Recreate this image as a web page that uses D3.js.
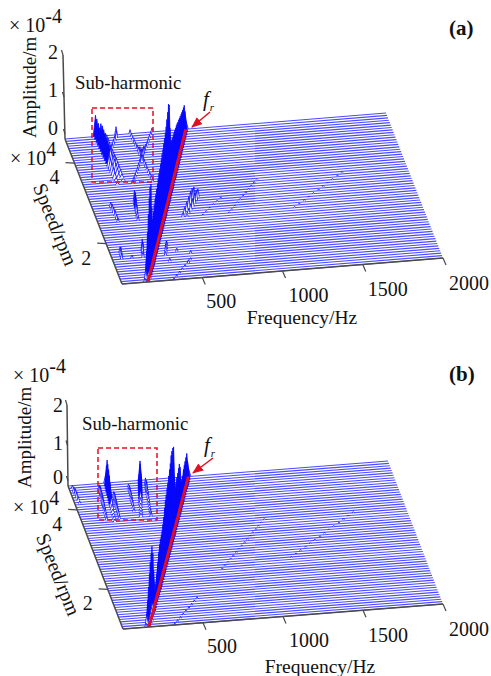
<!DOCTYPE html>
<html>
<head>
<meta charset="utf-8">
<script src="https://d3js.org/d3.v7.min.js"></script>
<style>
  body { margin: 0; background: #fff; }
  text { font-family: "Liberation Serif", serif; fill: #111; }
</style>
</head>
<body>
<div id="chart"></div>
<script>
// speeds of the flat traces that make the floor (rpm)
const floorSpeeds = [10000,10600,11200,11800,12400,13000,13600,14200,14800,15400,16000,16600,17200,17800,18400,19000,19600,20200,20800,21400,22000,22600,23200,23800,24400,25000,25600,26200,26800,27400,28000,28600,29200,29800,30400,31000,31600,32200,32800,33400,34000,34600,35200,35800,36400,37000,37600,38200,38800,39400,40000,40600,41200,41800,42400,43000,43600,44200,44800,45400,46000];
const speeds = [10000,10750,11500,12250,13000,13750,14500,15250,16000,16750,17500,18250,19000,19750,20500,21250,22000,22750,23500,24250,25000,25750,26500,27250,28000,28750,29500,30250,31000,31750,32500,33250,34000,34750,35500,36250,37000,37750,38500,39250,40000,40750,41500,42250,43000,43750,44500,45250,46000];

const freqTicks = [500, 1000, 1500, 2000];
const speedTicks = [20000, 40000];
const ampTicks = [0, 1, 2];

// rotating frequency fr (Hz)
const frFreq = [162,174,187,199,211,224,236,248,260,273,285,297,310,322,334,347,359,371,383,396,408,420,433,445,457,470,482,494,506,519,531,543,556,568,580,593,605,617,629,642,654,666,679,691,703,716,728,740,752];

// amplitude of the main ridge (x 1e-4 m)
const mainAmpA = [.1,.18,.37,.55,.74,.93,1.07,1.16,1.25,1.32,1.36,1.41,1.46,1.51,1.55,1.59,1.63,1.67,1.72,1.76,1.82,1.87,1.93,2.0,2.1,2.2,2.32,2.22,1.58,1.15,1.13,1.11,1.09,1.07,1.06,1.04,1.02,.99,.95,.93,.89,.86,.83,.8,.78,.76,.74,.51,.23];
const mainAmpB = [.1,.15,.2,.25,.3,.32,.33,.34,.33,.33,.55,.75,.9,1.02,1.08,1.1,1.12,1.2,1.3,1.45,1.56,1.62,1.7,1.76,1.85,1.93,2.0,2.12,2.15,2.15,2.1,1.3,.95,1,1.05,1.08,1.12,1.15,1,.6,.5,.55,.63,.66,.68,.7,.72,.45,.2];

// panel (a), sub-harmonic ridges
const a1Freq = [208,207,206,205,204,202,201,200,199,198,197,196,195,194,193,191,190];
const a1Amp = [.05,.1,.15,.2,.25,.27,.3,.32,.33,.35,.36,.38,.4,.43,.47,.5,.52];
const a2Freq = [231,230,229,227,226,225,224,223,222,221,220,219,218,216];
const a2Amp = [.12,.18,.22,.25,.27,.28,.3,.31,.32,.33,.35,.38,.4,.38];
const a3Freq = [251,250,249,247,246,245,244,243,242,241,240,239,238,236];
const a3Amp = [.06,.1,.13,.16,.18,.2,.2,.2,.2,.2,.22,.24,.25,.22];
const a4Freq = [216,232,248,264,280,296,312,318];
const a4Amp = [.08,.08,.1,.1,.12,.14,.18,.2];
const a5Freq = [428,427,425,424,422,421,419,418,416,415,413,412,410,409,407,406,405];
const a6Freq = [304,319,334,349,364,378,393,408,423,438,453,468,483,497,512,527,542];
const crossAmp = [.08,.08,.08,.08,.08,.1,.12,.15,.22,.2,.12,.1,.08,.08,.08,.08,.1];

// panel (a), mid speed clusters
const c1Freq = [528,546,566,586,604,622,640];
const c1Amp = [.1,.15,.2,.25,.3,.3,.25];
const c1bFreq = [553,571,591,611,629,647,665];
const c1bAmp = [.05,.1,.15,.2,.25,.25,.2];
const c2Freq = [248,250,254,258,262,266,270];
const c2Amp = [.1,.15,.25,.3,.35,.32,.28];
const c3Freq = [123,122,120,118,116,115];
const c3Amp = [.1,.12,.14,.15,.15,.12];

// panel (a), low speed bumps
const d1Freq = [190,195,200,210];
const d1Amp = [.15,.3,.3,.15];
const d2Freq = [57,60,62];
const d2Amp = [.15,.22,.15];
const d3Freq = [330,340,350,360];
const d3Amp = [.1,.2,.2,.12];

// panel (a), faint harmonics
const h2LowA = [324,348,374,398,422,448,472];
const h2A = [816,840,866,890,914,940,964,988,1012,1038,1062];
const h3A = [1224,1260,1299,1335,1371,1410,1446,1482,1518,1557,1593];
const h17A = [653,680,710,740,770,800];

// the thin spike next to the main ridge
const spikeFreq = [143,156,168,181,194,207,219,232,245,257];
const spikeAmpA = [.1,.24,.6,.98,1.34,1.66,1.85,1.85,1.2,.6];
const spikeFreqB = [144,156,169,181,194,206,219,231,244,256,269];
const spikeAmpB = [.1,.25,.5,.75,1,1.2,1.35,1.44,1.2,.7,.3];

// panel (b), sub-harmonic ridges
const b1Freq = [200,203,205,208,211,214,216,219,222,225,227,230,233,235];
const b1Amp = [.08,.08,.08,.1,.15,.25,.35,.45,.55,.62,.68,.71,.5,.2];
const b2Freq = [370,377,383,390,396,403,410,416,423,429,436,443,449];
const b2Amp = [.1,.1,.1,.12,.18,.28,.4,.48,.52,.55,.55,.55,.2];
const b3Freq = [155,158,160,162,165,167,170,172,175,177,180];
const b3Amp = [.08,.1,.15,.17,.2,.21,.22,.22,.22,.18,.12];
const b4Freq = [234,236,238,241,243,245,248,250];
const b4Amp = [.1,.15,.15,.18,.2,.2,.2,.15];
const b5Freq = [340,343,346,349,352,355,358,361,364];
const b5Amp = [.08,.1,.12,.14,.15,.15,.15,.12,.08];
const b6Freq = [433,436,440,444,448,452,456,459,463,467,470];
const b6Amp = [.12,.1,.08,.08,.08,.1,.15,.2,.25,.22,.2];
const b7Freq = [30,28,26,24,22,20];
const b7Amp = [.06,.1,.15,.15,.12,.08];
const h2LowB = [324,348,374,398,422,448,472,496,520];
const h2B = [742,766,792,816,840,866,890,914,940,964,988,1012,1038,1062,1086,1112];
const h3B = [1188,1224,1260,1299,1335,1371,1410,1446,1482,1518,1557,1593,1629,1668];

// [first sample, freqs, amps, half width in Hz]
const ridgesA = [
  [0, frFreq, mainAmpA, 16], [0, spikeFreq, spikeAmpA, 9],
  [32, a1Freq, a1Amp, 14], [34, a2Freq, a2Amp, 14], [33, a3Freq, a3Amp, 14], [41, a4Freq, a4Amp, 8],
  [32, a5Freq, crossAmp, 7], [32, a6Freq, crossAmp, 7],
  [20, c1Freq, c1Amp, 9], [20, c1bFreq, c1bAmp, 9], [20, c2Freq, c2Amp, 8], [20, c3Freq, c3Amp, 8],
  [8, d1Freq, d1Amp, 8], [8, d2Freq, d2Amp, 8], [8, d3Freq, d3Amp, 8],
  [0, h2LowA, .05, 6], [20, h2A, .03, 6], [20, h3A, .03, 6], [20, h17A, .03, 6],
  [8, [121], .08, 8], [6, [342], .08, 8], [9, [408], .08, 8], [5, [451], .08, 8], [8, [487], .08, 8]
];
const ridgesB = [
  [0, frFreq, mainAmpB, 16], [0, spikeFreqB, spikeAmpB, 9],
  [35, b1Freq, b1Amp, 12], [36, b2Freq, b2Amp, 12], [36, b3Freq, b3Amp, 8], [36, b4Freq, b4Amp, 8],
  [38, b5Freq, b5Amp, 8], [36, b6Freq, b6Amp, 8], [42, b7Freq, b7Amp, 8],
  [0, h2LowB, .05, 6], [17, h2B, .03, 6], [19, h3B, .03, 6]
];

const panelA = {
  tag: "(a)", tagX: 449, tagY: 35, ridges: ridgesA,
  front: [122, 284], freqVec: [321, -26], speedVec: [-57, -145], ampTop: [-2, -84], ampPx: 41,
  box: [92, 108, 153, 182], subX: 75, subY: 89,
  fx: 203, fy: 106, arrow: [[210, 112], [192, 127]],
  expX: 9, expY: 32, speedExpX: 10, speedExpY: 165,
  ampX: 36, ampY: 138, ampLabelX: 53, ampLabelY: [135, 97, 59],
  speedTitle: [49, 227], freqTitle: [302, 324]
};
const panelB = {
  tag: "(b)", tagX: 449, tagY: 381, ridges: ridgesB,
  front: [123, 629], freqVec: [320, -25], speedVec: [-55, -143], ampTop: [-1, -81], ampPx: 41,
  box: [98, 448, 157, 520], subX: 82, subY: 430,
  fx: 204, fy: 452, arrow: [[213, 458], [193, 473]],
  expX: 13, expY: 382, speedExpX: 13, speedExpY: 514,
  ampX: 31, ampY: 488, ampLabelX: 58, ampLabelY: [484, 450, 412],
  speedTitle: [52, 577], freqTitle: [320, 673]
};

const svg = d3.select("#chart").append("svg")
  .attr("width", 491)
  .attr("height", 676);

svg.append("defs").append("marker")
  .attr("id", "head")
  .attr("markerWidth", 12).attr("markerHeight", 10)
  .attr("refX", 10).attr("refY", 4.5)
  .attr("orient", "auto").attr("markerUnits", "userSpaceOnUse")
  .append("path").attr("d", "M0,0L11,4.5L0,9Z").attr("fill", "#e01020");

[panelA, panelB].forEach(drawPanel);

function drawPanel(p) {
  const g = svg.append("g");

  // frequency and speed each push a point along one edge of the floor
  const fT = d3.scaleLinear().domain([0, 2000]).range([0, 1]);
  const sT = d3.scaleLinear().domain([10000, 46000]).range([0, 1]);
  const aY = d3.scaleLinear().domain([0, 1]).range([0, -p.ampPx]);
  const px = (f, s) => p.front[0] + fT(f) * p.freqVec[0] + sT(s) * p.speedVec[0];
  const py = (f, s, a) => p.front[1] + fT(f) * p.freqVec[1] + sT(s) * p.speedVec[1] + aY(a);

  // everything that gets drawn, sorted by speed later
  const items = floorSpeeds.map(s => ({ s, floor: true }));
  p.ridges.forEach(([first, freqs, amps, w]) => {
    freqs.forEach((f, k) => {
      const a = Array.isArray(amps) ? amps[k] : amps;
      items.push({ s: speeds[first + k], f, a, w });
    });
  });
  items.sort((m, n) => d3.descending(m.s, n.s));

  // back to front, so near traces hide the far ones
  const traces = g.append("g");
  const traceColor = "#0808ff";
  items.forEach(d => {
    const pts = d.floor
      ? [{ f: 0, a: 0 }, { f: 2000, a: 0 }]
      : [{ f: d.f - d.w, a: 0 }, { f: d.f, a: d.a }, { f: d.f + d.w, a: 0 }];
    const path = d3.line().x(q => px(q.f, d.s)).y(q => py(q.f, d.s, q.a))(pts);
    traces.append("path")
      .attr("d", path)
      .attr("fill", d.floor ? "none" : (d.a > 0.3 ? traceColor : "#fff"))
      .attr("stroke", d.floor ? "#4a4aff" : traceColor)
      .attr("stroke-width", d.floor ? 1.1 : 0.8);
  });

  // fr ridge base
  g.append("path")
    .attr("d", d3.line().x((f, i) => px(f, speeds[i])).y((f, i) => py(f, speeds[i], 0))(frFreq))
    .attr("fill", "none")
    .attr("stroke", "#e01020")
    .attr("stroke-width", 3);

  // floor edges and axes
  const axisColor = "#4a4a4a";
  const edge = (x1, y1, x2, y2, w) => g.append("line")
    .attr("x1", x1).attr("y1", y1).attr("x2", x2).attr("y2", y2)
    .attr("stroke", axisColor).attr("stroke-width", w || 1.5);

  edge(px(0, 10000), py(0, 10000, 0), px(2000, 10000), py(2000, 10000, 0));
  edge(px(0, 10000), py(0, 10000, 0), px(0, 46000), py(0, 46000, 0));
  const backX = px(0, 46000), backY = py(0, 46000, 0);
  edge(backX, backY, backX + p.ampTop[0], backY + p.ampTop[1]);

  const fLabelDx = [19, 26, 25, 26];
  freqTicks.forEach((f, k) => {
    const x = px(f, 10000), y = py(f, 10000, 0);
    edge(x, y, x + 3, y + 7, 1.2);
    g.append("text").attr("x", x + fLabelDx[k]).attr("y", y + 30 + k * 0.7)
      .attr("text-anchor", "middle").attr("font-size", 20).text(f);
  });

  speedTicks.forEach(s => {
    const x = px(0, s), y = py(0, s, 0);
    edge(x, y, x - 9, y - 0.5, 1.2);
    g.append("text").attr("x", x - 20).attr("y", y + 21)
      .attr("text-anchor", "middle").attr("font-size", 20).text(s / 10000);
  });

  ampTicks.forEach((a, k) => {
    const x = backX + a / 2 * p.ampTop[0], y = backY + a / 2 * p.ampTop[1] - (a === 0 ? 5 : 0);
    edge(x, y, x - 1.5, y - 5, 1.2);
    g.append("text").attr("x", p.ampLabelX).attr("y", p.ampLabelY[k])
      .attr("text-anchor", "middle").attr("font-size", 20).text(a);
  });

  // exponents
  const exponent = (x, y, exp) => {
    const t = g.append("text").attr("x", x).attr("y", y).attr("font-size", 20);
    t.append("tspan").text("\u00d7 10");
    t.append("tspan").attr("dy", -9).attr("font-size", 20).text(exp);
  };
  exponent(p.expX, p.expY, "-4");
  exponent(p.speedExpX, p.speedExpY, "4");

  g.append("text")
    .attr("transform", `translate(${p.ampX},${p.ampY}) rotate(-90)`)
    .attr("font-size", 19).text("Amplitude/m");
  g.append("text")
    .attr("transform", `translate(${p.speedTitle[0]},${p.speedTitle[1]}) rotate(68)`)
    .attr("text-anchor", "middle").attr("font-size", 20).text("Speed/rpm");
  g.append("text")
    .attr("x", p.freqTitle[0]).attr("y", p.freqTitle[1])
    .attr("text-anchor", "middle").attr("font-size", 19.5).text("Frequency/Hz");

  g.append("text").attr("x", p.subX).attr("y", p.subY).attr("font-size", 18.8).text("Sub-harmonic");
  g.append("text").attr("x", p.tagX).attr("y", p.tagY)
    .attr("font-size", 21).attr("font-weight", "bold").text(p.tag);

  // dashed box around the sub-harmonics
  g.append("rect")
    .attr("x", p.box[0]).attr("y", p.box[1])
    .attr("width", p.box[2] - p.box[0]).attr("height", p.box[3] - p.box[1])
    .attr("fill", "none").attr("stroke", "#e01020")
    .attr("stroke-width", 1.5).attr("stroke-dasharray", "5,3");

  // fr label and arrow
  const fLabel = g.append("text").attr("x", p.fx).attr("y", p.fy)
    .attr("font-size", 21).attr("font-style", "italic");
  fLabel.append("tspan").text("f");
  fLabel.append("tspan").attr("dy", 5).attr("dx", 1).attr("font-size", 11).text("r");

  g.append("line")
    .attr("x1", p.arrow[0][0]).attr("y1", p.arrow[0][1])
    .attr("x2", p.arrow[1][0]).attr("y2", p.arrow[1][1])
    .attr("stroke", "#e01020").attr("stroke-width", 1.5)
    .attr("marker-end", "url(#head)");
}
</script>
</body>
</html>
